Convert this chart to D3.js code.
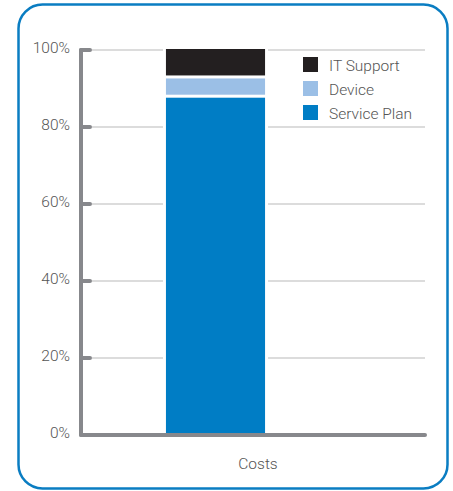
<!DOCTYPE html>
<html>
<head>
<meta charset="utf-8">
<script src="https://cdn.jsdelivr.net/npm/d3@7"></script>
<style>
  body { margin: 0; background: #fff; }
  text { font-family: Roboto, "Open Sans", sans-serif; font-weight: 300; fill: #555; }
</style>
</head>
<body>
<div class="chart"></div>
<script>
// data
const categories = ["Costs"];
const seriesNames = ["Service Plan", "Device", "IT Support"];
const servicePlan = [88];
const device = [5];
const itSupport = [7];
const yTicks = [0, 20, 40, 60, 80, 100];

const colors = { "Service Plan": "#007dc5", "Device": "#9bbfe6", "IT Support": "#231f20" };
const axisGray = "#87888c";

const width = 453, height = 491;
const plot = { left: 81, right: 425, top: 50, bottom: 435 };

let svg = d3.select(".chart")
  .append("svg")
    .attr("width", width)
    .attr("height", height);

// rounded border
svg.append("rect")
  .attr("x", 18.5)
  .attr("y", 4.5)
  .attr("width", 429)
  .attr("height", 484)
  .attr("rx", 24)
  .attr("fill", "none")
  .attr("stroke", "#0a7dc2")
  .attr("stroke-width", 2.5);

let y = d3.scaleLinear()
  .domain([0, 100])
  .range([plot.bottom, plot.top]);

let x = d3.scaleBand()
  .domain(categories)
  .range([plot.left, 350])
  .paddingInner(0.3)
  .paddingOuter(0.6);

// gridlines
svg.append("g")
  .selectAll("line")
  .data(yTicks.filter(d => d > 0))
  .enter().append("line")
    .attr("x1", plot.left + 11)
    .attr("x2", plot.right)
    .attr("y1", d => y(d))
    .attr("y2", d => y(d))
    .attr("stroke", "#dcdcdc")
    .attr("stroke-width", 2);

// stacked data
let table = categories.map((c, i) => ({
  category: c,
  "Service Plan": servicePlan[i],
  "Device": device[i],
  "IT Support": itSupport[i]
}));
let stack = d3.stack().keys(seriesNames)(table);

// white halo behind the bar that cuts the gridlines
categories.forEach(c => {
  svg.append("rect")
    .attr("x", x(c) - 3)
    .attr("y", y(100) - 3)
    .attr("width", x.bandwidth() + 6)
    .attr("height", y(0) - y(100) + 3)
    .attr("fill", "#fff");
});

let gap = 3;
svg.append("g")
  .selectAll("g")
  .data(stack)
  .enter().append("g")
    .attr("fill", d => colors[d.key])
  .selectAll("rect")
  .data(d => d)
  .enter().append("rect")
    .attr("x", d => x(d.data.category))
    .attr("width", x.bandwidth())
    .attr("y", d => y(d[1]) + (d[1] < 100 ? gap / 2 : -1))
    .attr("height", d => {
      let top = y(d[1]) + (d[1] < 100 ? gap / 2 : -1);
      let bottom = y(d[0]) - (d[0] > 0 ? gap / 2 : 0);
      return bottom - top;
    });

// y axis line with tick stubs
let yAxis = svg.append("g").attr("id", "y-axis");
yAxis.append("line")
  .attr("x1", plot.left).attr("x2", plot.left)
  .attr("y1", plot.top).attr("y2", plot.bottom)
  .attr("stroke", axisGray)
  .attr("stroke-width", 4)
  .attr("stroke-linecap", "round");
yAxis.selectAll(".stub")
  .data(yTicks.filter(d => d > 0))
  .enter().append("line")
    .attr("class", "stub")
    .attr("x1", plot.left).attr("x2", plot.left + 9)
    .attr("y1", d => y(d)).attr("y2", d => y(d))
    .attr("stroke", axisGray)
    .attr("stroke-width", 4)
    .attr("stroke-linecap", "round");
yAxis.selectAll("text")
  .data(yTicks)
  .enter().append("text")
    .attr("x", 70)
    .attr("y", d => y(d) - 2)
    .attr("dy", "0.35em")
    .attr("text-anchor", "end")
    .attr("font-size", 15.5)
    .text(d => d + "%");

// x axis
svg.append("line")
  .attr("x1", plot.left).attr("x2", plot.right)
  .attr("y1", plot.bottom).attr("y2", plot.bottom)
  .attr("stroke", axisGray)
  .attr("stroke-width", 4)
  .attr("stroke-linecap", "round");

svg.append("text")
  .attr("x", (plot.left + plot.right) / 2 + 5)
  .attr("y", 469)
  .attr("text-anchor", "middle")
  .attr("font-size", 15.5)
  .text(categories[0]);

// legend
let legendOrder = seriesNames.slice().reverse();
let legend = svg.append("g")
  .attr("transform", "translate(303,57)");
let item = legend.selectAll("g")
  .data(legendOrder)
  .enter().append("g")
    .attr("transform", (d, i) => "translate(0," + i * 24 + ")");
item.append("rect")
  .attr("width", 15).attr("height", 15)
  .attr("fill", d => colors[d]);
item.append("text")
  .attr("x", 26)
  .attr("y", 14)
  .attr("font-size", 15.5)
  .text(d => d);
</script>
</body>
</html>
